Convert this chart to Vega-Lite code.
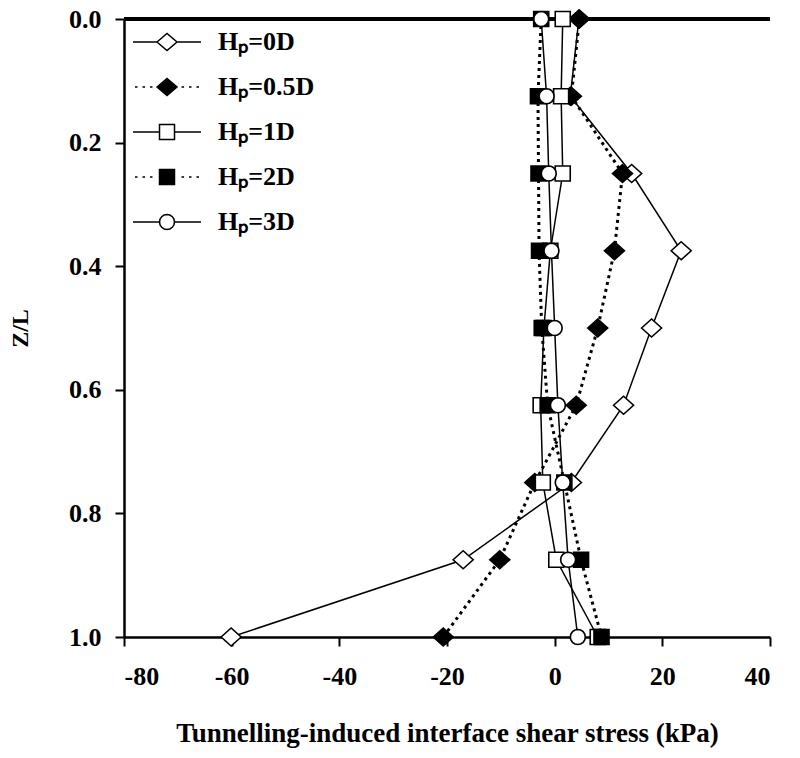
{
  "$schema": "https://vega.github.io/schema/vega-lite/v6.json",
  "autosize": {"type": "none"},
  "width": 646,
  "height": 618,
  "padding": {"left": 124, "top": 19, "right": 30, "bottom": 121},
  "background": "white",
  "config": {
    "view": {"stroke": null},
    "font": "Liberation Serif",
    "axis": {"grid": false, "domainColor": "black", "domainWidth": 2.5, "tickColor": "black", "tickWidth": 2, "tickSize": 9,
      "labelFont": "Liberation Serif", "labelFontWeight": "bold", "labelColor": "black",
      "titleFont": "Liberation Serif", "titleFontWeight": "bold", "titleColor": "black"}
  },
  "data": {"values": [
    {"s": "0D", "z": 0, "v": 4.5}, {"s": "0D", "z": 0.125, "v": 2.9}, {"s": "0D", "z": 0.25, "v": 14.3}, {"s": "0D", "z": 0.375, "v": 23.5}, {"s": "0D", "z": 0.5, "v": 18.0}, {"s": "0D", "z": 0.625, "v": 12.8}, {"s": "0D", "z": 0.75, "v": 3.1}, {"s": "0D", "z": 0.875, "v": -17.0}, {"s": "0D", "z": 1.0, "v": -60.1},
    {"s": "0.5D", "z": 0, "v": 4.6}, {"s": "0.5D", "z": 0.125, "v": 3.1}, {"s": "0.5D", "z": 0.25, "v": 12.6}, {"s": "0.5D", "z": 0.375, "v": 11.1}, {"s": "0.5D", "z": 0.5, "v": 8.0}, {"s": "0.5D", "z": 0.625, "v": 4.0}, {"s": "0.5D", "z": 0.75, "v": -3.7}, {"s": "0.5D", "z": 0.875, "v": -10.2}, {"s": "0.5D", "z": 1.0, "v": -20.7},
    {"s": "1D", "z": 0, "v": 1.5}, {"s": "1D", "z": 0.125, "v": 1.2}, {"s": "1D", "z": 0.25, "v": 1.5}, {"s": "1D", "z": 0.375, "v": -0.8}, {"s": "1D", "z": 0.5, "v": -2.0}, {"s": "1D", "z": 0.625, "v": -2.6}, {"s": "1D", "z": 0.75, "v": -2.2}, {"s": "1D", "z": 0.875, "v": 0.3}, {"s": "1D", "z": 1.0, "v": 8.0},
    {"s": "2D", "z": 0, "v": -2.5}, {"s": "2D", "z": 0.125, "v": -3.1}, {"s": "2D", "z": 0.25, "v": -3.0}, {"s": "2D", "z": 0.375, "v": -2.9}, {"s": "2D", "z": 0.5, "v": -2.4}, {"s": "2D", "z": 0.625, "v": -1.3}, {"s": "2D", "z": 0.75, "v": 1.8}, {"s": "2D", "z": 0.875, "v": 4.9}, {"s": "2D", "z": 1.0, "v": 8.7},
    {"s": "3D", "z": 0, "v": -2.5}, {"s": "3D", "z": 0.125, "v": -1.5}, {"s": "3D", "z": 0.25, "v": -1.1}, {"s": "3D", "z": 0.375, "v": -0.6}, {"s": "3D", "z": 0.5, "v": 0.0}, {"s": "3D", "z": 0.625, "v": 0.6}, {"s": "3D", "z": 0.75, "v": 1.5}, {"s": "3D", "z": 0.875, "v": 2.5}, {"s": "3D", "z": 1.0, "v": 4.3}
  ]},
  "encoding": {
    "x": {"field": "v", "type": "quantitative",
      "scale": {"domain": [-80, 40], "nice": false, "zero": false},
      "axis": {"values": [-80, -60, -40, -20, 0, 20, 40], "labelFontSize": 26, "labelPadding": 17,
        "labelExpr": "replace(datum.label, '−', '-')",
        "title": "Tunnelling-induced interface shear stress (kPa)", "titleFontSize": 27, "titlePadding": 31}},
    "y": {"field": "z", "type": "quantitative",
      "scale": {"domain": [0, 1], "reverse": true, "nice": false, "zero": false},
      "axis": {"values": [0, 0.2, 0.4, 0.6, 0.8, 1.0], "format": ".1f", "labelFontSize": 26, "labelPadding": 14,
        "title": "Z/L", "titleFontSize": 24, "titlePadding": 36}}
  },
  "resolve": {"scale": {"shape": "independent", "fill": "independent"}, "legend": {"shape": "independent", "fill": "independent"}},
  "layer": [
    {
      "mark": {"type": "rule", "color": "black", "strokeWidth": 2.5},
      "encoding": {"y": {"datum": 0}, "x": null}
    },
    {
      "transform": [{"filter": "datum.s === '0D' || datum.s === '1D' || datum.s === '3D'"}],
      "mark": {"type": "line", "color": "black", "strokeWidth": 1.5},
      "encoding": {
        "detail": {"field": "s"},
        "order": {"field": "z", "type": "quantitative"}
      }
    },
    {
      "transform": [{"filter": "datum.s === '0.5D' || datum.s === '2D'"}],
      "mark": {"type": "line", "color": "black", "strokeWidth": 3, "strokeDash": [3, 4]},
      "encoding": {
        "detail": {"field": "s"},
        "order": {"field": "z", "type": "quantitative"}
      }
    },
    {
      "mark": {"type": "point", "filled": true, "stroke": "black", "strokeWidth": 1.6, "opacity": 1, "size": 400},
      "encoding": {
        "shape": {"field": "s", "type": "nominal", "legend": null,
          "scale": {"domain": ["0D", "0.5D", "1D", "2D", "3D"], "range": [
            "M-1,0L0,-0.9L1,0L0,0.9Z",
            "M-1,0L0,-0.9L1,0L0,0.9Z",
            "M-0.75,-0.75H0.75V0.75H-0.75Z",
            "M-0.75,-0.75H0.75V0.75H-0.75Z",
            "M0.75,0L0.693,0.287L0.530,0.530L0.287,0.693L0,0.75L-0.287,0.693L-0.530,0.530L-0.693,0.287L-0.75,0L-0.693,-0.287L-0.530,-0.530L-0.287,-0.693L0,-0.75L0.287,-0.693L0.530,-0.530L0.693,-0.287Z"]}},
        "fill": {"field": "s", "type": "nominal", "legend": null,
          "scale": {"domain": ["0D", "0.5D", "1D", "2D", "3D"], "range": ["white", "black", "white", "black", "white"]}}
      }
    },
    {
      "transform": [{"filter": "false"}],
      "mark": {"type": "point", "filled": true, "opacity": 1, "size": 400},
      "encoding": {
        "stroke": {"value": "black"},
        "strokeWidth": {"value": 1.8},
        "shape": {"field": "s", "type": "nominal",
          "scale": {"domain": ["0D", "0.5D", "1D", "2D", "3D"], "range": [
            "M-3.4,0H-1M1,0H3.4M-1,0L0,-0.85L1,0L0,0.85Z",
            "M-3.2,0H-2.95M-2.45,0H-2.2M-1.7,0H-1.45M1.45,0H1.7M2.2,0H2.45M2.95,0H3.2M-1,0L0,-0.85L1,0L0,0.85Z",
            "M-3.4,0H-0.75M0.75,0H3.4M-0.75,-0.75H0.75V0.75H-0.75Z",
            "M-3.2,0H-2.95M-2.45,0H-2.2M-1.7,0H-1.45M1.45,0H1.7M2.2,0H2.45M2.95,0H3.2M-0.75,-0.75H0.75V0.75H-0.75Z",
            "M-3.4,0H-0.75M0.75,0H3.4M0.75,0L0.693,0.287L0.530,0.530L0.287,0.693L0,0.75L-0.287,0.693L-0.530,0.530L-0.693,0.287L-0.75,0L-0.693,-0.287L-0.530,-0.530L-0.287,-0.693L0,-0.75L0.287,-0.693L0.530,-0.530L0.693,-0.287Z"]},
          "legend": {
            "title": null, "orient": "none", "legendX": 30, "legendY": 10, "padding": 0,
            "symbolSize": 400, "labelOffset": 38, "rowPadding": 19,
            "labelFont": "Liberation Serif", "labelFontWeight": "bold", "labelFontSize": 26, "labelColor": "black",
            "labelExpr": "'Hₚ=' + datum.label",
            "encode": {"symbols": {"stroke": {"value": "black"}, "strokeWidth": {"value": 1.8}}}
          }},
        "fill": {"field": "s", "type": "nominal",
          "scale": {"domain": ["0D", "0.5D", "1D", "2D", "3D"], "range": ["white", "black", "white", "black", "white"]}}
      }
    }
  ]
}
